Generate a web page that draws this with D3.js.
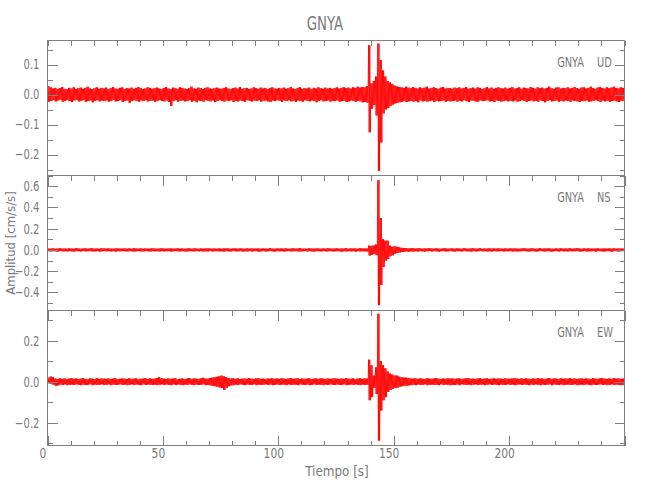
<!DOCTYPE html>
<html><head><meta charset="utf-8">
<script src="https://cdn.jsdelivr.net/npm/d3@7"></script>
<style>
body{margin:0;background:#fff}
text{font-family:"Liberation Sans Narrow","DejaVu Sans Condensed","Liberation Sans",sans-serif;fill:#7a7a7a}
</style>
</head><body><svg id="c" width="650" height="500"></svg>
<script>
// ---------- data ----------
const title = "GNYA";
const station = "GNYA";
const components = ["UD", "NS", "EW"];
const xLabel = "Tiempo [s]";
const yLabel = "Amplitud [cm/s/s]";
const timeDomain = [0, 250];
const xTickLabels = [0, 50, 100, 150, 200];
const udDomain = [-0.27, 0.18];
const nsDomain = [-0.57, 0.70];
const ewDomain = [-0.31, 0.346];
const udTicks = [-0.2, -0.1, 0.0, 0.1];
const nsTicks = [-0.4, -0.2, 0.0, 0.2, 0.4, 0.6];
const ewTicks = [-0.2, 0.0, 0.2];

// per-second max / min of each trace, in units of 0.001 cm/s/s (t = 0..249 s)
const udHi = [
28,24,20,22,18,21,25,19,17,22,20,24,18,21,23,19,22,26,20,18,21,24,19,22,20,
23,18,21,25,20,19,22,24,18,21,20,23,19,22,25,21,18,20,24,22,19,21,23,20,18,
22,25,20,18,23,21,19,24,22,20,18,21,26,20,19,23,21,18,22,24,20,19,21,23,20,
19,22,24,20,18,21,23,20,25,19,21,22,18,20,24,21,19,23,20,22,18,21,24,20,19,
22,20,23,19,21,25,20,18,22,24,19,21,20,23,18,22,20,24,21,19,23,20,22,19,21,
24,20,22,25,21,23,20,24,22,26,23,25,24,28,164,37,45,60,170,115,80,60,45,40,35,
30,27,25,24,22,26,23,21,25,22,20,24,21,23,26,20,22,24,21,19,23,25,20,22,21,
19,23,21,24,20,22,25,19,21,23,20,24,22,18,21,25,20,23,19,22,24,21,20,23,19,
22,25,20,21,24,19,23,21,20,25,22,19,24,21,23,20,22,26,21,19,23,24,20,22,21,
24,20,22,25,21,19,23,24,20,22,26,21,19,23,25,22,20,24,21,23,26,22,20,24,22];
const udLo = [
-24,-22,-19,-23,-20,-18,-24,-21,-19,-22,-25,-20,-18,-23,-21,-19,-24,-22,-20,-26,-21,-19,-23,-20,-22,
-20,-24,-21,-18,-23,-22,-19,-25,-21,-20,-28,-22,-19,-21,-24,-20,-22,-19,-23,-21,-20,-24,-22,-19,-21,
-23,-20,-25,-38,-22,-19,-24,-21,-20,-23,-22,-19,-24,-21,-26,-20,-22,-24,-19,-21,-23,-20,-25,-22,-19,
-21,-24,-20,-22,-19,-25,-21,-23,-20,-22,-24,-19,-21,-23,-20,-22,-19,-24,-21,-20,-23,-25,-20,-22,-19,
-21,-24,-20,-22,-19,-23,-21,-25,-20,-22,-24,-19,-21,-23,-20,-22,-26,-21,-19,-23,-22,-20,-24,-21,-22,
-20,-24,-22,-21,-25,-23,-20,-22,-24,-21,-23,-26,-25,-27,-126,-47,-35,-70,-255,-160,-63,-50,-45,-38,-34,
-30,-28,-26,-24,-22,-25,-23,-21,-24,-22,-26,-20,-23,-21,-24,-22,-20,-25,-21,-23,-22,-20,-24,-21,-23,
-22,-20,-24,-21,-23,-19,-22,-25,-20,-21,-23,-24,-20,-22,-21,-19,-23,-22,-25,-20,-21,-24,-22,-20,-23,
-21,-23,-20,-24,-22,-19,-21,-25,-22,-20,-23,-21,-24,-20,-22,-26,-21,-19,-23,-22,-20,-24,-21,-23,-20,
-22,-24,-20,-21,-23,-25,-21,-22,-20,-24,-23,-21,-19,-22,-25,-20,-23,-21,-24,-22,-20,-23,-25,-21,-22];
const nsHi = [
14,12,15,11,13,16,12,14,11,15,13,12,16,14,11,13,15,12,14,16,12,13,11,15,14,
12,15,13,11,14,16,12,13,15,11,14,12,16,13,12,15,11,14,13,12,15,14,11,13,16,
13,11,14,15,12,13,16,12,14,11,13,15,12,14,13,11,15,12,14,16,13,12,14,11,15,
12,14,13,15,11,13,16,12,14,13,11,15,12,14,13,12,15,11,14,13,12,16,13,11,14,
13,15,12,14,11,13,15,12,14,16,12,13,11,15,14,12,13,15,11,14,12,16,13,12,14,
15,12,14,13,16,12,15,13,14,12,16,14,15,13,40,38,42,50,656,300,100,87,87,40,30,
35,30,25,20,18,16,14,17,15,13,16,14,12,15,13,16,14,12,15,13,11,14,16,12,13,
15,12,14,13,11,16,13,12,14,15,12,13,16,11,14,12,15,13,14,12,16,13,11,15,12,
14,13,15,12,11,14,16,13,12,15,14,11,13,16,12,14,13,15,12,11,14,13,16,12,14,
13,15,12,14,16,13,11,14,12,15,13,12,14,16,11,13,15,12,14,13,15,12,14,13,12];
const nsLo = [
-13,-15,-12,-14,-16,-11,-14,-13,-15,-12,-14,-16,-12,-13,-15,-11,-14,-13,-12,-15,-14,-12,-16,-13,-11,
-14,-12,-15,-13,-16,-12,-14,-11,-13,-15,-12,-14,-16,-13,-11,-14,-15,-12,-13,-16,-12,-14,-13,-15,-12,
-15,-13,-12,-16,-14,-11,-13,-15,-12,-14,-16,-12,-13,-15,-11,-14,-12,-16,-13,-14,-11,-15,-12,-13,-14,
-13,-16,-12,-14,-15,-11,-13,-14,-12,-16,-13,-15,-11,-14,-12,-13,-16,-14,-12,-15,-13,-11,-14,-16,-12,
-14,-12,-16,-13,-11,-15,-13,-12,-14,-16,-13,-11,-15,-12,-14,-16,-12,-13,-15,-11,-14,-13,-12,-15,-13,
-12,-14,-16,-13,-15,-12,-14,-13,-16,-12,-15,-13,-14,-16,-53,-45,-40,-50,-520,-330,-160,-100,-85,-60,-50,
-35,-30,-25,-20,-18,-15,-17,-14,-16,-13,-15,-12,-14,-16,-13,-11,-15,-12,-14,-16,-13,-12,-15,-14,-11,
-14,-16,-12,-13,-15,-11,-14,-13,-16,-12,-15,-13,-11,-14,-12,-16,-13,-15,-12,-14,-13,-11,-16,-12,-14,
-12,-15,-13,-16,-14,-12,-11,-14,-15,-13,-12,-16,-14,-11,-13,-15,-12,-14,-16,-13,-11,-15,-12,-14,-13,
-15,-12,-14,-13,-11,-16,-14,-12,-15,-13,-14,-12,-16,-11,-13,-15,-14,-12,-13,-16,-12,-14,-15,-13,-12];
const ewHi = [
20,25,22,15,13,16,14,17,12,15,18,14,16,13,15,17,14,12,16,15,13,17,14,16,15,
14,16,13,15,17,12,14,16,15,13,17,14,15,16,12,14,15,17,13,16,14,15,18,22,17,
15,13,16,14,15,17,12,14,16,13,15,18,14,16,15,13,17,19,16,15,18,20,22,24,26,
30,26,22,18,16,16,14,17,13,15,16,14,18,15,13,16,17,14,15,13,16,15,17,14,16,
14,17,15,13,16,18,14,15,17,13,16,14,15,17,13,15,16,14,17,15,13,16,14,15,17,
15,13,16,14,17,15,14,16,13,15,17,14,16,15,107,80,30,70,330,100,80,65,50,40,35,
30,30,25,22,20,20,18,16,15,17,14,16,15,13,17,15,14,16,18,15,13,16,14,17,15,
16,14,15,17,13,15,16,18,14,15,13,16,17,14,15,16,13,15,17,14,16,15,13,17,15,
14,16,18,15,13,17,14,16,15,13,16,14,17,15,16,13,15,18,14,16,15,13,17,14,16,
15,17,14,16,13,15,17,14,16,15,13,17,15,14,16,18,15,13,16,14,17,15,16,14,15];
const ewLo = [
-8,-10,-15,-20,-18,-14,-16,-13,-17,-15,-14,-16,-13,-15,-17,-14,-16,-15,-13,-17,-14,-16,-15,-13,-16,
-15,-13,-17,-14,-16,-15,-13,-16,-14,-17,-15,-13,-16,-14,-15,-17,-13,-16,-14,-15,-16,-14,-17,-15,-13,
-16,-14,-15,-17,-13,-16,-14,-15,-17,-14,-16,-13,-15,-17,-14,-16,-15,-13,-17,-16,-18,-20,-22,-25,-28,
-30,-40,-30,-22,-18,-17,-14,-16,-13,-15,-17,-14,-16,-15,-13,-17,-14,-16,-15,-13,-16,-14,-17,-15,-14,
-16,-14,-15,-17,-13,-16,-15,-14,-17,-13,-15,-16,-14,-17,-15,-13,-16,-14,-15,-17,-14,-16,-13,-15,-16,
-14,-16,-15,-13,-17,-15,-14,-16,-13,-15,-17,-14,-16,-15,-90,-75,-30,-60,-286,-140,-90,-75,-50,-40,-35,
-30,-30,-25,-22,-20,-20,-18,-16,-15,-17,-14,-16,-15,-13,-17,-15,-14,-16,-15,-17,-13,-16,-14,-15,-17,
-15,-16,-14,-17,-13,-15,-16,-14,-17,-15,-13,-16,-15,-14,-17,-15,-13,-16,-14,-15,-17,-14,-16,-15,-13,
-16,-14,-17,-15,-13,-16,-14,-15,-17,-14,-16,-13,-15,-17,-14,-16,-15,-13,-17,-14,-15,-16,-14,-17,-15,
-14,-16,-15,-13,-17,-15,-14,-16,-13,-15,-17,-14,-16,-15,-13,-16,-14,-17,-15,-13,-16,-14,-15,-17,-16];

// ---------- drawing ----------
const svg = d3.select("#c");
const L = 47.5, R = 624.5, T = 40.5, PH = 135;
const axisColor = "#808080";
const x = d3.scaleLinear().domain(timeDomain).range([L, R]);

const panels = [
  {comp: components[0], hi: udHi, lo: udLo, domain: udDomain, major: udTicks, minorStep: 0.05, topMajor: 5},
  {comp: components[1], hi: nsHi, lo: nsLo, domain: nsDomain, major: nsTicks, minorStep: 0.1, topMajor: 10},
  {comp: components[2], hi: ewHi, lo: ewLo, domain: ewDomain, major: ewTicks, minorStep: 0.1, topMajor: 10}
];

function squeeze(sel, f) {
  sel.each(function () {
    const w = this.getComputedTextLength();
    if (w > 0) {
      this.setAttribute("textLength", (w * f).toFixed(2));
      this.setAttribute("lengthAdjust", "spacingAndGlyphs");
    }
  });
}
function clean(g) {
  g.select(".domain").remove();
  g.attr("font-family", null).attr("font-size", null).style("color", axisColor);
  g.selectAll("line").attr("stroke-width", 1);
}

const xMajor = d3.range(timeDomain[0], timeDomain[1] + 1, 50);
const xMinor = d3.range(timeDomain[0], timeDomain[1] + 1, 10);
const fmt = d3.format(".1f");
const defs = svg.append("defs");

panels.forEach((p, k) => {
  const top = T + k * PH, bot = top + PH;
  const y = d3.scaleLinear().domain(p.domain).range([bot, top]);
  const minor = d3.range(Math.ceil(p.domain[0] / p.minorStep - 1e-9), Math.floor(p.domain[1] / p.minorStep + 1e-9) + 1)
                  .map(i => +(i * p.minorStep).toFixed(3));

  defs.append("clipPath").attr("id", "clip" + k)
    .append("rect").attr("x", L).attr("y", top).attr("width", R - L).attr("height", PH);

  // each 1-s bin is drawn as a dense swing between its max and min
  const pts = p.hi.flatMap((h, i) => [
    [i + 0.125, h / 1000], [i + 0.375, p.lo[i] / 1000],
    [i + 0.625, h / 1000], [i + 0.875, p.lo[i] / 1000]
  ]);
  const line = d3.line().x(d => x(d[0])).y(d => y(d[1]));
  svg.append("path").attr("clip-path", `url(#clip${k})`)
    .attr("d", line(pts)).attr("fill", "none")
    .attr("stroke", "#ff0000").attr("stroke-width", 0.9).attr("stroke-linejoin", "round");

  // frame
  svg.append("rect").attr("x", L).attr("y", top).attr("width", R - L).attr("height", PH)
    .attr("fill", "none").attr("stroke", axisColor).attr("shape-rendering", "crispEdges");

  // left axis
  const gl = svg.append("g").attr("transform", `translate(${L},0)`).attr("shape-rendering", "crispEdges");
  gl.call(d3.axisLeft(y).tickValues(minor).tickSize(-5).tickFormat("")).call(clean);
  const glm = svg.append("g").attr("transform", `translate(${L},0)`).attr("shape-rendering", "crispEdges");
  glm.call(d3.axisLeft(y).tickValues(p.major).tickSize(-10).tickPadding(8).tickFormat(fmt)).call(clean);
  glm.selectAll("text").attr("font-size", 14).call(squeeze, 0.8);

  // right axis
  svg.append("g").attr("transform", `translate(${R},0)`).attr("shape-rendering", "crispEdges")
    .call(d3.axisRight(y).tickValues(minor).tickSize(-5).tickFormat("")).call(clean);
  svg.append("g").attr("transform", `translate(${R},0)`).attr("shape-rendering", "crispEdges")
    .call(d3.axisRight(y).tickValues(p.major).tickSize(-10).tickFormat("")).call(clean);

  // top axis
  svg.append("g").attr("transform", `translate(0,${top})`).attr("shape-rendering", "crispEdges")
    .call(d3.axisTop(x).tickValues(xMinor).tickSize(-5).tickFormat("")).call(clean);
  svg.append("g").attr("transform", `translate(0,${top})`).attr("shape-rendering", "crispEdges")
    .call(d3.axisTop(x).tickValues(xMajor).tickSize(-p.topMajor).tickFormat("")).call(clean);

  // bottom axis of last panel
  if (k === panels.length - 1) {
    svg.append("g").attr("transform", `translate(0,${bot})`).attr("shape-rendering", "crispEdges")
      .call(d3.axisBottom(x).tickValues(xMinor).tickSize(-5).tickFormat("")).call(clean);
    const gb = svg.append("g").attr("transform", `translate(0,${bot})`).attr("shape-rendering", "crispEdges")
      .call(d3.axisBottom(x).tickValues(xTickLabels).tickSize(-10).tickPadding(3).tickFormat(d3.format("d"))).call(clean);
    svg.append("g").attr("transform", `translate(0,${bot})`).attr("shape-rendering", "crispEdges")
      .call(d3.axisBottom(x).tickValues(xMajor).tickSize(-10).tickFormat("")).call(clean);
    gb.selectAll("text").attr("font-size", 14).attr("dx", -5).call(squeeze, 0.85);
  }

  // component label
  const ly = top + 26.5;
  svg.append("text").attr("x", 584).attr("y", ly).attr("text-anchor", "end")
    .attr("font-size", 14).text(station).call(squeeze, 0.78);
  svg.append("text").attr("x", 597).attr("y", ly).attr("text-anchor", "start")
    .attr("font-size", 14).text(p.comp).call(squeeze, 0.78);
});

// titles
svg.append("text").attr("x", 325).attr("y", 30).attr("text-anchor", "middle")
  .attr("font-size", 19).text(title).call(squeeze, 0.78);
svg.append("text").attr("x", 337).attr("y", 476).attr("text-anchor", "middle")
  .attr("font-size", 14).text(xLabel).call(squeeze, 0.95);
svg.append("text").attr("transform", `translate(15,${T + 1.5 * PH}) rotate(-90)`)
  .attr("text-anchor", "middle").attr("font-size", 13).text(yLabel);
</script>
</body></html>
